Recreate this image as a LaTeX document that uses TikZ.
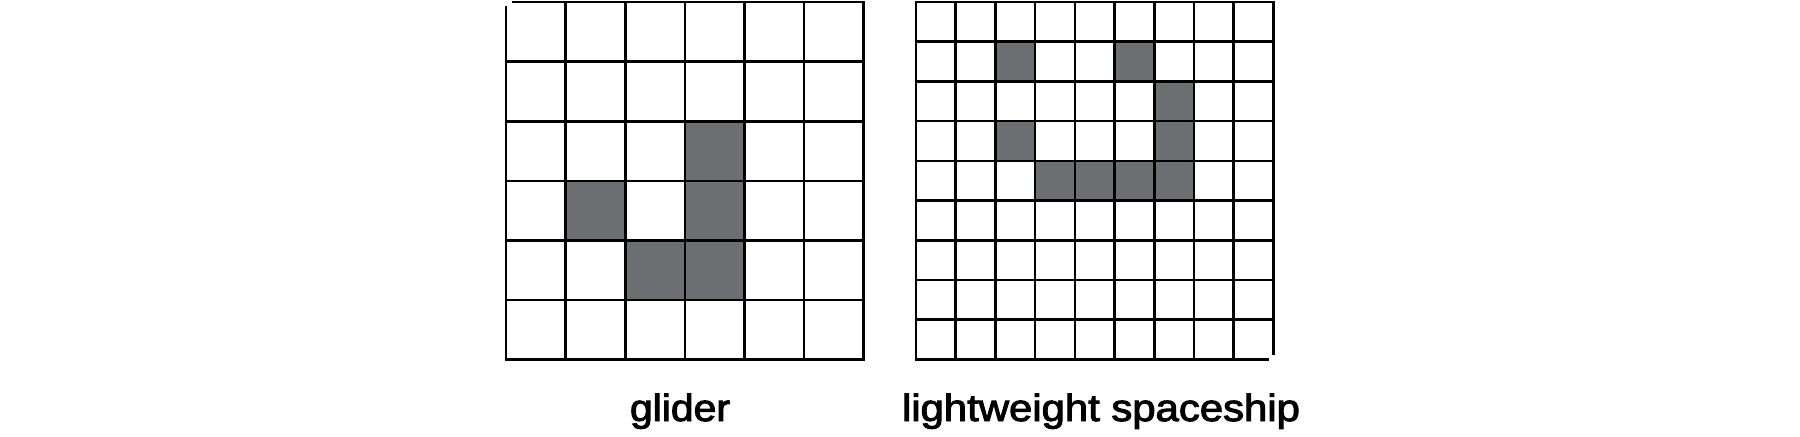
\documentclass[tikz,border=0pt]{standalone}
\usepackage{fontspec}
\setmainfont{Liberation Sans}
\newfontfamily\capfont{Liberation Sans}[FakeBold=2.5]
\usepackage{graphicx}
\definecolor{cellgray}{HTML}{6D6E71}
\tikzset{
  gridline/.style={line width=1.3pt, black, line cap=rect},
  live/.style={fill=cellgray, draw=none},
  caption/.style={anchor=base, inner sep=0pt, font=\capfont}
}
\begin{document}
\begin{tikzpicture}[x=0.5pt,y=-0.5pt]
\useasboundingbox (0,0) rectangle (1800,436);
% glider: 6x6, origin (506,2), cell 59.6
\def\gx{506}\def\gy{2}\def\gc{59.6}
\foreach \r/\c in {2/3,3/1,3/3,4/2,4/3}
  \fill[live] ({\gx+\c*\gc},{\gy+\r*\gc}) rectangle ++(\gc,\gc);
\foreach \i in {1,...,6}
  \draw[gridline] ({\gx+\i*\gc},\gy) -- ({\gx+\i*\gc},{\gy+6*\gc});
\draw[gridline] (\gx,{\gy+5}) -- (\gx,{\gy+6*\gc});
\foreach \i in {1,...,6}
  \draw[gridline] (\gx,{\gy+\i*\gc}) -- ({\gx+6*\gc},{\gy+\i*\gc});
\draw[gridline] ({\gx+7},\gy) -- ({\gx+6*\gc},\gy);
% lightweight spaceship: 9x9, origin (916,2), cell 39.7
\def\lx{916}\def\ly{2}\def\lc{39.7}
\foreach \r/\c in {1/2,1/5,2/6,3/2,3/6,4/3,4/4,4/5,4/6}
  \fill[live] ({\lx+\c*\lc},{\ly+\r*\lc}) rectangle ++(\lc,\lc);
\foreach \i in {0,...,8}
  \draw[gridline] ({\lx+\i*\lc},\ly) -- ({\lx+\i*\lc},{\ly+9*\lc});
\draw[gridline] ({\lx+9*\lc},\ly) -- ({\lx+9*\lc},{\ly+9*\lc-6});
\foreach \i in {0,...,8}
  \draw[gridline] (\lx,{\ly+\i*\lc}) -- ({\lx+9*\lc},{\ly+\i*\lc});
\draw[gridline] (\lx,{\ly+9*\lc}) -- ({\lx+9*\lc-6},{\ly+9*\lc});
\node[caption] (glab) at (680,421) {\resizebox{50pt}{13.75pt}{glider}};
\node[caption] (llab) at (1101,421) {\resizebox{199pt}{13.75pt}{lightweight spaceship}};
\end{tikzpicture}
\end{document}
